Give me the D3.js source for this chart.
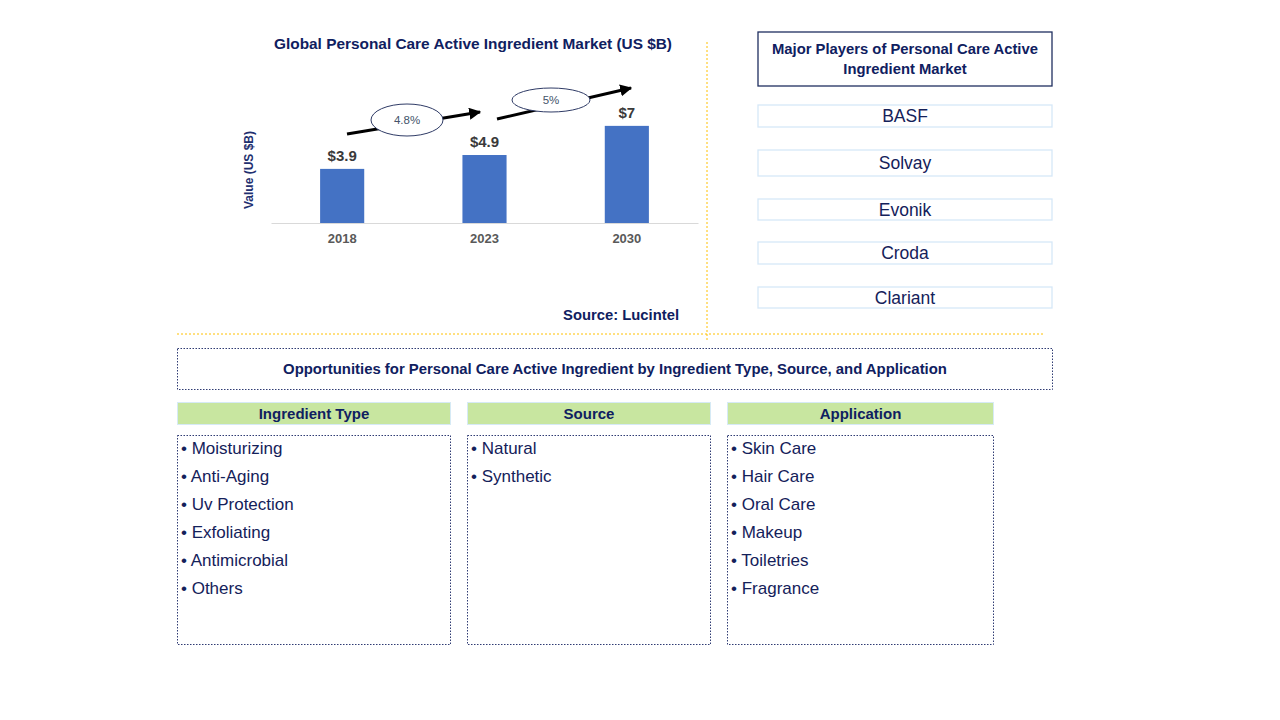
<!DOCTYPE html>
<html>
<head>
<meta charset="utf-8">
<script src="https://cdn.jsdelivr.net/npm/d3@7"></script>
<style>
  html, body { margin: 0; padding: 0; background: #fff; }
  svg { display: block; font-family: Arial, "Liberation Sans", sans-serif; }
</style>
</head>
<body>
<svg id="chart" width="1280" height="720"></svg>
<script>
// ---- Data ----
const years = ["2018", "2023", "2030"];
const values = [3.9, 4.9, 7];
const valueLabels = ["$3.9", "$4.9", "$7"];
const cagrLabels = ["4.8%", "5%"];
const players = ["BASF", "Solvay", "Evonik", "Croda", "Clariant"];
const segmentTitles = ["Ingredient Type", "Source", "Application"];
const segmentItems = [
  ["Moisturizing", "Anti-Aging", "Uv Protection", "Exfoliating", "Antimicrobial", "Others"],
  ["Natural", "Synthetic"],
  ["Skin Care", "Hair Care", "Oral Care", "Makeup", "Toiletries", "Fragrance"]
];

const svg = d3.select("#chart");

// ---- Bar chart ----
const x = d3.scaleBand().domain(years).range([271, 698]).padding(0);
const y = d3.scaleLinear().domain([0, 8]).range([223, 112]);
const barW = x.bandwidth() * 0.31;

svg.append("text")
  .attr("x", 473).attr("y", 49)
  .attr("text-anchor", "middle")
  .attr("font-size", 15.4).attr("font-weight", "bold")
  .attr("fill", "#0f2060")
  .text("Global Personal Care Active Ingredient Market (US $B)");

svg.append("text")
  .attr("transform", "translate(253,170) rotate(-90)")
  .attr("text-anchor", "middle")
  .attr("font-size", 12).attr("font-weight", "bold")
  .attr("fill", "#1f3070")
  .text("Value (US $B)");

svg.selectAll("rect.bar").data(values).enter().append("rect")
  .attr("class", "bar")
  .attr("x", (d, i) => x(years[i]) + x.bandwidth() / 2 - barW / 2)
  .attr("y", d => y(d))
  .attr("width", barW)
  .attr("height", d => y(0) - y(d))
  .attr("fill", "#4472c4");

svg.selectAll("text.vlab").data(values).enter().append("text")
  .attr("class", "vlab")
  .attr("x", (d, i) => x(years[i]) + x.bandwidth() / 2)
  .attr("y", d => y(d) - 8)
  .attr("text-anchor", "middle")
  .attr("font-size", 15).attr("font-weight", "bold")
  .attr("fill", "#3a3a3a")
  .text((d, i) => valueLabels[i]);

const xAxis = svg.append("g").attr("transform", `translate(0,${y(0)})`)
  .call(d3.axisBottom(x).tickSize(0).tickPadding(11));
xAxis.select(".domain").attr("stroke", "#d9d9d9").attr("stroke-width", 1);
xAxis.selectAll("text")
  .attr("font-size", 13).attr("font-weight", "bold")
  .attr("fill", "#595959")
  .attr("font-family", "Arial, 'Liberation Sans', sans-serif");

// arrows + CAGR ellipses
const defs = svg.append("defs");
defs.append("marker")
  .attr("id", "ah").attr("viewBox", "0 0 10 10")
  .attr("refX", 9).attr("refY", 5)
  .attr("markerWidth", 4).attr("markerHeight", 4)
  .attr("orient", "auto")
  .append("path").attr("d", "M0,0 L10,5 L0,10 z").attr("fill", "#000");

const arrows = [
  { x1: 347, y1: 134, x2: 480, y2: 112, cx: 407, cy: 120, rx: 36, ry: 16 },
  { x1: 497, y1: 119, x2: 631, y2: 88, cx: 551, cy: 100, rx: 39, ry: 12 }
];
arrows.forEach((a, i) => {
  svg.append("line")
    .attr("x1", a.x1).attr("y1", a.y1).attr("x2", a.x2).attr("y2", a.y2)
    .attr("stroke", "#000").attr("stroke-width", 3)
    .attr("marker-end", "url(#ah)");
  svg.append("ellipse")
    .attr("cx", a.cx).attr("cy", a.cy).attr("rx", a.rx).attr("ry", a.ry)
    .attr("fill", "#fff").attr("stroke", "#2f3b66").attr("stroke-width", 1);
  svg.append("text")
    .attr("x", a.cx).attr("y", a.cy + 4)
    .attr("text-anchor", "middle")
    .attr("font-size", 11.5)
    .attr("fill", "#44546a")
    .text(cagrLabels[i]);
});

svg.append("text")
  .attr("x", 679).attr("y", 320)
  .attr("text-anchor", "end")
  .attr("font-size", 14.8).attr("font-weight", "bold")
  .attr("fill", "#0f2060")
  .text("Source: Lucintel");

// orange dashed separators
svg.append("line")
  .attr("x1", 707).attr("y1", 42).attr("x2", 707).attr("y2", 340)
  .attr("stroke", "#ffc000").attr("stroke-width", 1).attr("stroke-dasharray", "2,2");
svg.append("line")
  .attr("x1", 177).attr("y1", 334).attr("x2", 1043).attr("y2", 334)
  .attr("stroke", "#ffc000").attr("stroke-width", 1).attr("stroke-dasharray", "2,2");

// ---- Major players ----
svg.append("rect")
  .attr("x", 758).attr("y", 32).attr("width", 294).attr("height", 54)
  .attr("fill", "#fff").attr("stroke", "#1f2f60").attr("stroke-width", 1.3);
["Major Players of Personal Care Active", "Ingredient Market"].forEach((t, i) => {
  svg.append("text")
    .attr("x", 905).attr("y", 54 + i * 20)
    .attr("text-anchor", "middle")
    .attr("font-size", 14.8).attr("font-weight", "bold")
    .attr("fill", "#0f2060")
    .text(t);
});
const playerY = [105, 150, 199, 242, 287];
const playerH = [22, 26, 21, 22, 21];
players.forEach((p, i) => {
  svg.append("rect")
    .attr("x", 758).attr("y", playerY[i]).attr("width", 294).attr("height", playerH[i])
    .attr("fill", "#fff").attr("stroke", "#d6e8f7").attr("stroke-width", 1.3);
  svg.append("text")
    .attr("x", 905).attr("y", playerY[i] + playerH[i] / 2 + 6)
    .attr("text-anchor", "middle")
    .attr("font-size", 17.5)
    .attr("fill", "#14215a")
    .text(p);
});

// ---- Opportunities ----
svg.append("rect")
  .attr("x", 177.5).attr("y", 348.5).attr("width", 875).attr("height", 41)
  .attr("fill", "none").attr("stroke", "#2f3b73").attr("stroke-width", 1)
  .attr("stroke-dasharray", "1.5,1.5");
svg.append("text")
  .attr("x", 615).attr("y", 374)
  .attr("text-anchor", "middle")
  .attr("font-size", 14.9).attr("font-weight", "bold")
  .attr("fill", "#0f2060")
  .text("Opportunities for Personal Care Active Ingredient by Ingredient Type, Source, and Application");

const colX = [177.5, 467.5, 727.5];
const colW = [273, 243, 266];
segmentTitles.forEach((t, i) => {
  svg.append("rect")
    .attr("x", colX[i]).attr("y", 402.5).attr("width", colW[i]).attr("height", 22)
    .attr("fill", "#c8e6a0").attr("stroke", "#d6eaf5").attr("stroke-width", 1);
  svg.append("text")
    .attr("x", colX[i] + colW[i] / 2).attr("y", 418.5)
    .attr("text-anchor", "middle")
    .attr("font-size", 15).attr("font-weight", "bold")
    .attr("fill", "#0f2060")
    .text(t);
  svg.append("rect")
    .attr("x", colX[i]).attr("y", 435.5).attr("width", colW[i]).attr("height", 209)
    .attr("fill", "none").attr("stroke", "#2f3b73").attr("stroke-width", 1)
    .attr("stroke-dasharray", "1.5,1.5");
  segmentItems[i].forEach((item, j) => {
    svg.append("text")
      .attr("x", colX[i] + 3.5).attr("y", 454 + j * 28)
      .attr("font-size", 17)
      .attr("fill", "#14215a")
      .text("\u2022 " + item);
  });
});
</script>
</body>
</html>
